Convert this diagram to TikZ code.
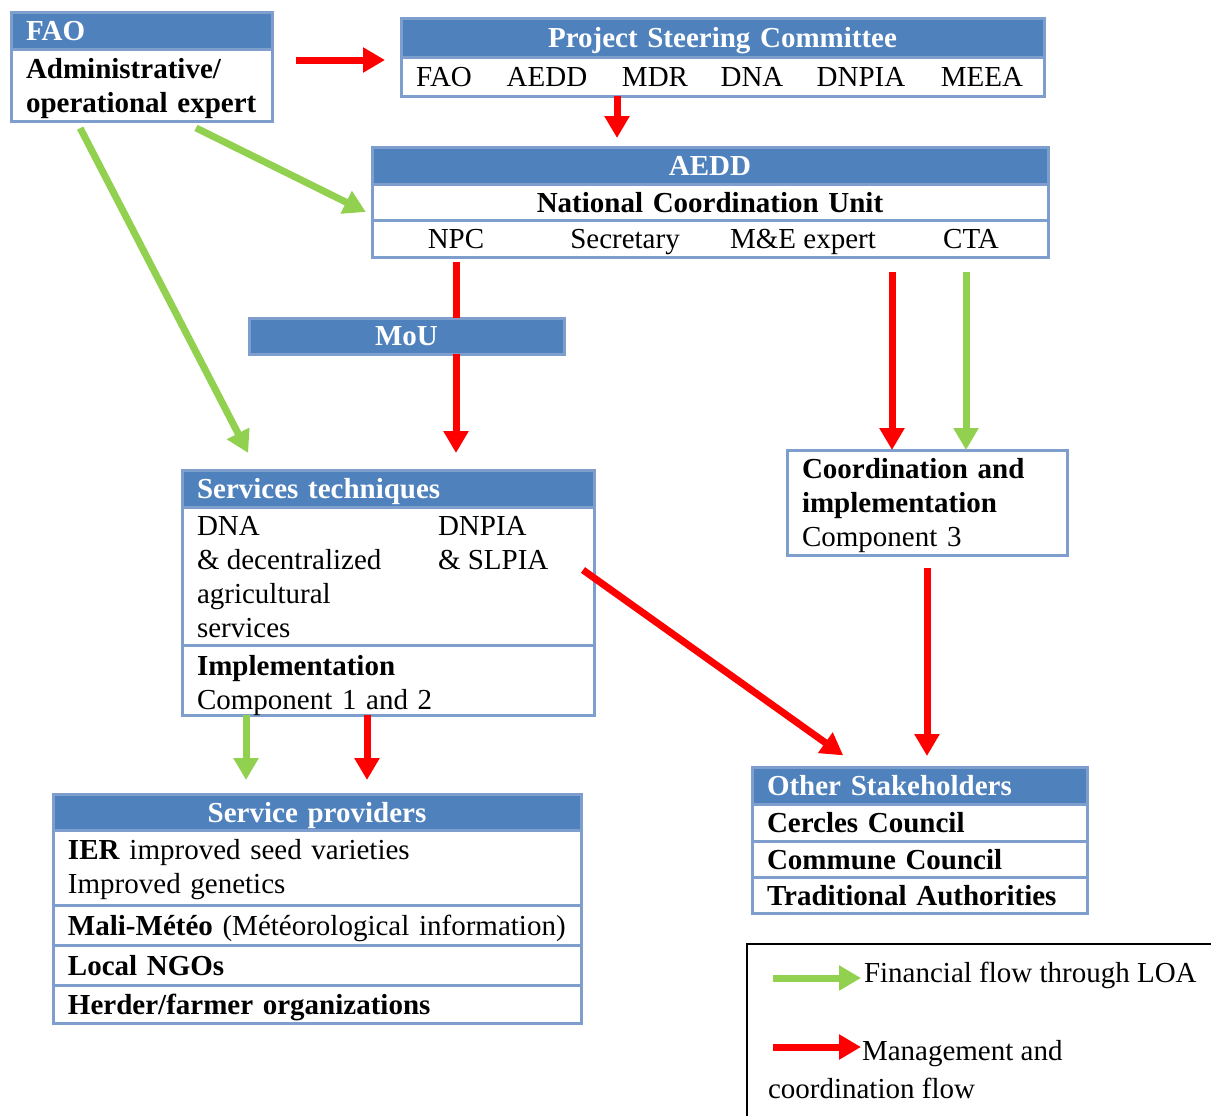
\documentclass[tikz,border=0pt]{standalone}
\usepackage{fontspec}
\setmainfont{Liberation Serif}
\usetikzlibrary{positioning,arrows.meta}
\definecolor{hdrblue}{HTML}{4F81BD}
\definecolor{boxline}{HTML}{7E9FCE}
\definecolor{mgmtred}{HTML}{FF0000}
\definecolor{fingreen}{HTML}{92D050}
\newcommand\diagfont{\fontsize{14.5pt}{17pt}\selectfont}
\newcommand\topstrut[1]{\rule{0pt}{#1}}

\begin{document}
\begin{tikzpicture}[x=0.5pt,y=-0.5pt,
    every node/.style={font=\diagfont},
    hdr/.style={draw=boxline,fill=hdrblue,line width=1.5pt,text=white,font=\diagfont\bfseries,
      text width=#1,inner xsep=7.5pt,inner ysep=0pt,outer sep=0pt,minimum height=18.5pt,text depth=0pt},
    cell/.style={draw=boxline,fill=white,line width=1.5pt,text width=#1,align=left,
      inner xsep=7.5pt,inner ysep=0pt,outer sep=0pt,minimum height=18pt},
    oneline/.style={text depth=0pt},
    plain/.style={inner sep=0pt,outer sep=0pt},
    mgmt/.style={draw=mgmtred,line width=3.5pt,-{Triangle[width=12pt,length=11pt]}},
    fin/.style={draw=fingreen,line width=3.5pt,-{Triangle[width=12pt,length=11pt]}}]
        \useasboundingbox (0,0) rectangle (1211,1115);

        % FAO
        \node[hdr=115.5pt,align=left,anchor=north west] (faohead) at (11,12) {FAO};
        \node[cell=115.5pt,minimum height=36pt,font=\diagfont\bfseries,below=0pt of faohead] (faobody) {\topstrut{14pt}Administrative/\\\mbox{operational expert}};

        % steering committee
        \node[hdr=306.5pt,align=center,minimum height=19.5pt,anchor=north west] (pschead) at (401,18) {Project Steering Committee};
        \node[cell=306.5pt,minimum height=19.5pt,below=0pt of pschead] (pscbody) {};
        \foreach \x/\t [count=\i] in {444/FAO,547/AEDD,655/MDR,752/DNA,861/DNPIA,982/MEEA}
            \node[plain,anchor=base] (psc\i) at (\x,86) {\t};

        % AEDD / coordination unit
        \node[hdr=323pt,align=center,anchor=north west] (aeddhead) at (372,147) {AEDD};
        \node[cell=323pt,oneline,align=center,font=\diagfont\bfseries,below=0pt of aeddhead] (ncu) {National Coordination Unit};
        \node[cell=323pt,minimum height=18.5pt,below=0pt of ncu] (ncustaff) {};
        \foreach \x/\t/\n in {456/NPC/npc,625/Secretary/sec,803/M\&E expert/me,971/CTA/cta}
            \node[plain,anchor=base] (\n) at (\x,248) {\t};

        % MoU
        \node[hdr=142.5pt,align=center,minimum height=18pt,anchor=north west] (mou) at (249,318) {MoU};

        % services techniques
        \node[hdr=191pt,align=left,anchor=north west] (servhead) at (182,470) {Services techniques};
        \node[cell=191pt,minimum height=69pt,below=0pt of servhead] (servbody) {};
        \node[plain,align=left,anchor=north west] (dna) at ([xshift=7.5pt,yshift=-4.5pt]servbody.north west) {DNA\\\& decentralized\\agricultural\\services};
        \node[plain,align=left,anchor=north west] (dnpia) at ([xshift=128pt,yshift=-4.5pt]servbody.north west) {DNPIA\\\& SLPIA};
        \node[cell=191pt,minimum height=35pt,below=0pt of servbody] (servimpl) {\topstrut{15pt}\textbf{Implementation}\\Component 1 and 2};

        % component 3
        \node[cell=125pt,minimum height=52.5pt,anchor=north west] (coord) at (787,450) {\topstrut{13pt}\textbf{Coordination and}\\\textbf{implementation}\\Component 3};

        % service providers
        \node[hdr=249pt,align=center,minimum height=18pt,anchor=north west] (provhead) at (53,794) {Service providers};
        \node[cell=249pt,minimum height=37.5pt,below=0pt of provhead] (ier) {\topstrut{12pt}\textbf{IER} improved seed varieties\\Improved genetics};
        \node[cell=249pt,oneline,minimum height=20pt,below=0pt of ier] (meteo) {\mbox{\textbf{Mali-Météo} (Météorological information)}};
        \node[cell=249pt,oneline,minimum height=20pt,font=\diagfont\bfseries,below=0pt of meteo] (ngo) {Local NGOs};
        \node[cell=249pt,oneline,minimum height=19pt,font=\diagfont\bfseries,below=0pt of ngo] (herder) {Herder/farmer organizations};

        % other stakeholders
        \node[hdr=152.5pt,align=left,anchor=north west] (otherhead) at (752,767) {Other Stakeholders};
        \node[cell=152.5pt,oneline,minimum height=18.5pt,font=\diagfont\bfseries,below=0pt of otherhead] (cercle) {Cercles Council};
        \node[cell=152.5pt,oneline,font=\diagfont\bfseries,below=0pt of cercle] (commune) {Commune Council};
        \node[cell=152.5pt,oneline,font=\diagfont\bfseries,below=0pt of commune] (trad) {\mbox{Traditional Authorities}};

        % legend
        \node[plain,draw,line width=1pt,anchor=north west,minimum width=260pt,minimum height=100pt] (legend) at (747,944) {};
        \node[plain,anchor=base west] (fintext) at (864,982) {Financial flow through LOA};
        \node[plain,anchor=base west] (mgtext) at (862,1060) {Management and};
        \node[plain,anchor=base west] (mgtext2) at (768,1098) {coordination flow};
        \coordinate (finstart) at (773,978);
        \coordinate (mgstart) at (773,1047);
        \draw[fin,shorten >=1.5pt] (finstart) -- (finstart -| fintext.west);
        \draw[mgmt,shorten >=0.5pt] (mgstart) -- (mgstart -| mgtext.west);

        % management and coordination flow
        \coordinate (pscin) at ([yshift=-1.5pt]pschead.south west);
        \draw[mgmt,shorten <=12pt,shorten >=8pt] (faobody.east |- pscin) -- (pscin);
        \coordinate (pscout) at ([xshift=-52.75pt]pscbody.south);
        \draw[mgmt,shorten >=4.5pt] (pscout) -- (pscout |- aeddhead.north);
        \draw[mgmt,-,shorten <=2.5pt] (npc |- ncustaff.south) -- (npc |- mou.north);
        \draw[mgmt,shorten >=8.5pt] (npc |- mou.south) -- (npc |- servhead.north);
        \coordinate (coordred) at ([xshift=-17.5pt]coord.north);
        \draw[mgmt,shorten <=7.5pt] (coordred |- ncustaff.south) -- (coordred);
        \draw[mgmt,shorten <=6.5pt,shorten >=5.5pt] (coord.south) -- (coord.south |- otherhead.north);
        \draw[mgmt,shorten >=10pt] ([xshift=-5.5pt,yshift=3pt]servbody.east) -- ([xshift=-30pt]otherhead.north);
        \coordinate (implred) at ([xshift=-10.5pt]servimpl.south);
        \draw[mgmt,shorten >=7pt] (implred) -- (implred |- provhead.north);

        % financial flow
        \draw[fin,shorten <=7.8pt,shorten >=3.4pt] ([xshift=20.25pt]faobody.south) -- ([yshift=-6.5pt]ncu.west);
        \draw[fin,shorten <=4pt,shorten >=9.6pt] ([xshift=-32.5pt]faobody.south) -- ([xshift=-65.5pt]servhead.north);
        \coordinate (coordgreen) at ([xshift=19.5pt]coord.north);
        \draw[fin,shorten <=7.5pt] (coordgreen |- ncustaff.south) -- (coordgreen);
        \coordinate (implgreen) at ([xshift=-71pt]servimpl.south);
        \draw[fin,shorten >=7pt] (implgreen) -- (implgreen |- provhead.north);
    \end{tikzpicture}
\end{document}
